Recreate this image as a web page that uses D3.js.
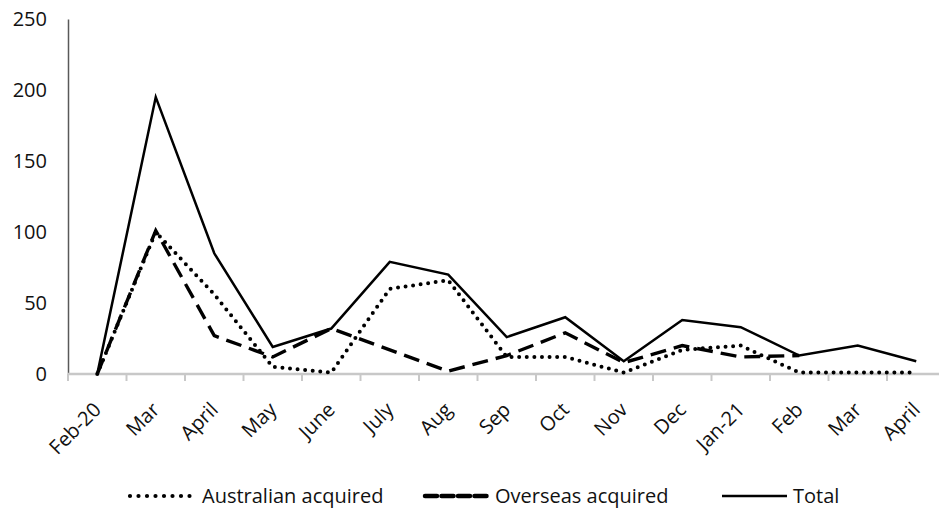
<!DOCTYPE html>
<html>
<head>
<meta charset="utf-8">
<script src="https://cdn.jsdelivr.net/npm/d3@7"></script>
<style>
  html, body { margin: 0; padding: 0; background: #fff; }
  svg { display: block; font-family: "Open Sans", "Noto Sans", sans-serif; }
</style>
</head>
<body>
<svg id="chart" width="939" height="512"></svg>
<script>
const categories = ["Feb-20","Mar","April","May","June","July","Aug","Sep","Oct","Nov","Dec","Jan-21","Feb","Mar","April"];
const australian = [0,100,56,5,1,60,66,12,12,1,17,20,1,1,1];
const overseas   = [0,101,27,12,32,17,2,13,29,8,20,12,13,null,null];
const total      = [0,195,85,19,32,79,70,26,40,9,38,33,13,20,9];
const yTicks     = [0,50,100,150,200,250];
const seriesNames = ["Australian acquired","Overseas acquired","Total"];

(function(){
const svg = d3.select("#chart");
const mLeft = 68, mTop = 19, mBottom = 374, bandW = 58.5;
const idx = categories.map((d,i)=>i);
const x = d3.scaleBand().domain(idx).range([mLeft, mLeft + bandW*categories.length]).padding(0);
const y = d3.scaleLinear().domain([0,250]).range([mBottom, mTop]);
const cx = i => x(i) + x.bandwidth()/2;

// Y axis
const yAxis = svg.append("g").attr("transform", `translate(${mLeft},0)`)
  .call(d3.axisLeft(y).tickValues(yTicks).tickSize(0).tickPadding(21));
yAxis.select(".domain").attr("stroke", "#595959").attr("stroke-width", 1.5);
yAxis.selectAll("text").attr("font-size", 20).attr("fill", "#111")
  .attr("font-family", "'Open Sans', sans-serif");

// X axis line + boundary ticks
const xg = svg.append("g");
xg.append("line").attr("x1", mLeft).attr("x2", mLeft + bandW*categories.length)
  .attr("y1", mBottom).attr("y2", mBottom).attr("stroke", "#c8c8c8").attr("stroke-width", 2.5);
xg.selectAll("line.tick").data(idx).join("line").attr("class","tick")
  .attr("x1", i => x(i)).attr("x2", i => x(i))
  .attr("y1", mBottom).attr("y2", mBottom + 7)
  .attr("stroke", "#c8c8c8").attr("stroke-width", 2);
xg.selectAll("text").data(idx).join("text")
  .attr("transform", i => `translate(${cx(i) + 5},${mBottom + 37}) rotate(-45)`)
  .attr("text-anchor", "end")
  .attr("font-size", 20).attr("fill", "#111")
  .text(i => categories[i]);

// Lines
const line = d3.line().defined(d => d.v != null).x(d => cx(d.i)).y(d => y(d.v));
const styles = [
  { data: australian, width: 4, dash: "0,7.6", cap: "round" },
  { data: overseas, width: 3.4, dash: "16,8", cap: "butt" },
  { data: total, width: 2.5, dash: null, cap: "butt" }
];
styles.forEach(s => {
  svg.append("path")
    .datum(s.data.map((v,i)=>({i, v})))
    .attr("d", line)
    .attr("fill", "none").attr("stroke", "#000")
    .attr("stroke-width", s.width)
    .attr("stroke-dasharray", s.dash)
    .attr("stroke-linecap", s.cap)
    .attr("stroke-linejoin", "miter");
});

// Legend
const legendX = [128, 425, 722];
const legendY = 496;
const lg = svg.append("g");
seriesNames.forEach((name, k) => {
  const s = styles[k];
  lg.append("line").attr("x1", legendX[k] + (k===0?2:0)).attr("x2", legendX[k] + (k===0?69:(k===1?63:65)))
    .attr("y1", legendY).attr("y2", legendY)
    .attr("stroke", "#000").attr("stroke-width", k===0 ? 4.2 : (k===1 ? 4.5 : 2.5))
    .attr("stroke-dasharray", k===1 ? "12,4.5" : (k===0 ? "0,8.5" : null))
    .attr("stroke-linecap", k===1 ? "round" : s.cap);
  lg.append("text").attr("x", legendX[k] + (k===0?74:(k===1?70:71))).attr("y", legendY)
    .attr("dy", "0.35em").attr("font-size", 20).attr("fill", "#111").text(name);
});
})();
</script>
</body>
</html>
